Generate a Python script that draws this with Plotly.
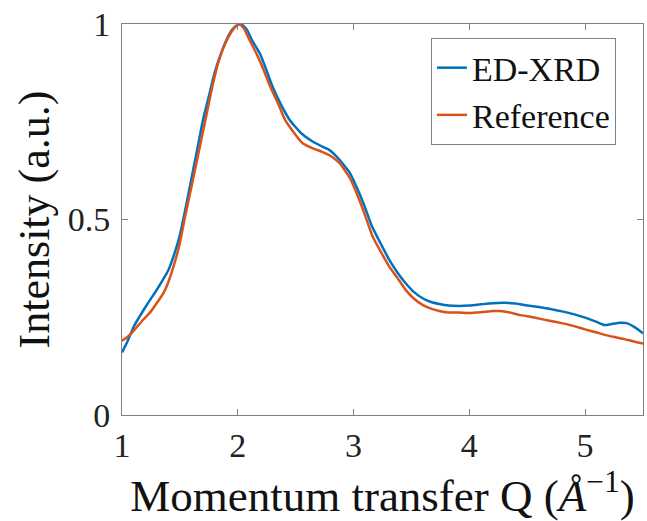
import plotly.graph_objects as go

q_ed = [1.00, 1.05, 1.10, 1.20, 1.30, 1.40, 1.45, 1.50, 1.55, 1.60, 1.65, 1.70, 1.75, 1.80, 1.85,
        1.90, 1.95, 2.00, 2.03, 2.08, 2.12, 2.19, 2.25, 2.30, 2.38, 2.45, 2.55, 2.65, 2.72, 2.79,
        2.85, 2.90, 2.97, 3.05, 3.10, 3.16, 3.24, 3.31, 3.38, 3.45, 3.52, 3.60, 3.67, 3.74, 3.82,
        3.91, 4.00, 4.10, 4.20, 4.30, 4.40, 4.50, 4.60, 4.70, 4.80, 4.90, 5.00, 5.10, 5.17, 5.22,
        5.30, 5.36, 5.42, 5.46, 5.50]
i_ed = [0.160, 0.190, 0.225, 0.275, 0.320, 0.370, 0.410, 0.460, 0.530, 0.605, 0.680, 0.755, 0.815, 0.875, 0.920,
        0.958, 0.985, 0.998, 1.000, 0.985, 0.960, 0.925, 0.880, 0.840, 0.790, 0.754, 0.720, 0.699, 0.688, 0.678,
        0.662, 0.645, 0.618, 0.567, 0.530, 0.482, 0.435, 0.396, 0.364, 0.337, 0.315, 0.298, 0.289, 0.284, 0.280,
        0.279, 0.280, 0.283, 0.286, 0.287, 0.285, 0.280, 0.276, 0.271, 0.265, 0.258, 0.249, 0.238, 0.230, 0.232,
        0.236, 0.235, 0.226, 0.218, 0.209]

q_ref = [1.00, 1.05, 1.10, 1.18, 1.25, 1.30, 1.35, 1.39, 1.43, 1.47, 1.50, 1.54, 1.60, 1.66, 1.72,
         1.78, 1.83, 1.87, 1.92, 1.97, 2.01, 2.05, 2.10, 2.16, 2.22, 2.28, 2.35, 2.41, 2.49, 2.56,
         2.65, 2.72, 2.79, 2.85, 2.88, 2.97, 3.05, 3.10, 3.16, 3.24, 3.31, 3.38, 3.45, 3.52, 3.60,
         3.67, 3.74, 3.82, 3.91, 4.00, 4.10, 4.20, 4.26, 4.35, 4.43, 4.55, 4.66, 4.75, 4.83, 4.92,
         5.00, 5.10, 5.17, 5.26, 5.34, 5.42, 5.50]
i_ref = [0.190, 0.200, 0.215, 0.243, 0.265, 0.286, 0.308, 0.332, 0.366, 0.405, 0.440, 0.500, 0.584, 0.669, 0.754,
         0.840, 0.900, 0.935, 0.967, 0.990, 1.000, 0.990, 0.960, 0.925, 0.885, 0.840, 0.795, 0.754, 0.720, 0.695,
         0.682, 0.674, 0.665, 0.652, 0.644, 0.605, 0.550, 0.510, 0.460, 0.415, 0.379, 0.350, 0.320, 0.298, 0.281,
         0.272, 0.266, 0.262, 0.262, 0.261, 0.263, 0.266, 0.266, 0.262, 0.256, 0.250, 0.243, 0.238, 0.233, 0.226,
         0.219, 0.211, 0.205, 0.199, 0.194, 0.188, 0.183]

x_ticks = [1, 2, 3, 4, 5]
y_ticks = [0, 0.5, 1]
y_tick_labels = ["0", "0.5", "1"]

FONT = "Liberation Serif"

fig = go.Figure()
fig.add_trace(go.Scatter(x=q_ed, y=i_ed, mode="lines", name="ED-XRD",
                         line=dict(color="#0072BD", width=2.5, shape="spline", smoothing=0.5)))
fig.add_trace(go.Scatter(x=q_ref, y=i_ref, mode="lines", name="Reference",
                         line=dict(color="#D95319", width=2.5, shape="spline", smoothing=0.5)))

axis_common = dict(showline=True, linecolor="#808080", linewidth=1, mirror="ticks",
                   ticks="inside", ticklen=6, tickcolor="#808080", tickwidth=1,
                   showgrid=False, zeroline=False,
                   tickfont=dict(family=FONT, size=34, color="#222222"))

fig.update_layout(
    width=647, height=521,
    margin=dict(l=122, r=4, t=24, b=106),
    paper_bgcolor="white", plot_bgcolor="white",
    font=dict(family=FONT, size=34, color="#111111"),
    xaxis=dict(range=[1, 5.5], tickvals=x_ticks, ticktext=[str(v) for v in x_ticks],
               title=dict(text="Momentum transfer Q (<i>Å</i><sup>−1</sup>)",
                          font=dict(family=FONT, size=45, color="#111111"), standoff=2),
               ticklabelstandoff=0,
               **axis_common),
    yaxis=dict(range=[0, 1], tickvals=y_ticks, ticktext=y_tick_labels,
               title=dict(text="Intensity (a.u.)",
                          font=dict(family=FONT, size=44, color="#111111"), standoff=4),
               ticklabelstandoff=4,
               **axis_common),
    legend=dict(x=0.593, y=0.964, xanchor="left", yanchor="top",
                bordercolor="#808080", borderwidth=1, bgcolor="white",
                font=dict(family=FONT, size=34, color="#111111"),
                itemwidth=30, tracegroupgap=0),
    showlegend=True,
)

fig.write_html("out.html")
